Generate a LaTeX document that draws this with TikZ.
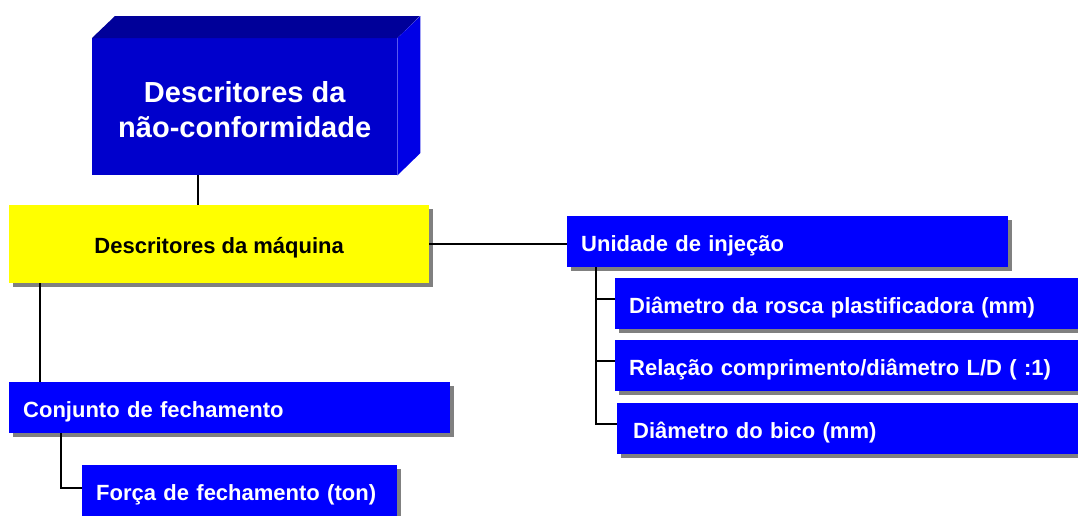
\documentclass[tikz,border=0pt]{standalone}
\usepackage{fontspec}
\setmainfont{Liberation Sans}
\usetikzlibrary{positioning, shadows, calc}
\definecolor{ncfFront}{HTML}{0000CC}
\definecolor{ncfTop}{HTML}{000099}
\definecolor{ncfSide}{HTML}{0000E6}
\definecolor{boxBlue}{HTML}{0000FF}
\definecolor{machYellow}{HTML}{FFFF00}
\definecolor{shadowGray}{HTML}{808080}

\begin{document}
\begin{tikzpicture}[x=1pt, y=-1pt,
  link/.style={black, line width=2pt},
  boxshadow/.style={drop shadow={shadow xshift=3.5pt, shadow yshift=-3.5pt, fill=shadowGray, opacity=1}},
  itembox/.style={fill=boxBlue, text=white, anchor=north west, align=left,
    inner xsep=14pt, inner ysep=0pt, minimum height=51pt, text height=19pt, text depth=0pt,
    font=\bfseries\fontsize{22}{26}\selectfont, boxshadow}]
  \clip (0,0) rectangle (1078,515);
  \fill[white] (0,0) rectangle (1078,515);
  % --- 3D block at the top: front face carries the title, top and side faces drawn on it ---
  \def\depx{23}\def\depy{22}
  \node[fill=ncfFront, text=white, anchor=north west, align=center, inner sep=0pt,
    minimum width=305pt, minimum height=137pt, text height=62pt,
    font=\bfseries\fontsize{29}{35}\selectfont] (ncf) at (92,38)
    {Descritores da\\n\~ao-conformidade};
  \fill[ncfTop] (ncf.north west) -- ++(\depx,-\depy) -- ++(305,0) -- (ncf.north east) -- cycle;
  \fill[ncfSide] (ncf.north east) -- ++(\depx,-\depy) -- ++(0,137) -- (ncf.south east) -- cycle;
  % --- machine descriptors (yellow) ---
  \node[fill=machYellow, anchor=north west, inner sep=0pt, minimum width=420pt, minimum height=78pt,
    text height=19pt, text depth=0pt, font=\bfseries\fontsize{22}{26}\selectfont, boxshadow]
    (maq) at (9,205) {Descritores da máquina};
  % --- injection unit and its leaves ---
  \node[itembox, text width=413pt] (uni) at (567,216) {Unidade de injeção};
  \node[itembox, text width=447pt] (rosca) at (615,278) {Diâmetro da rosca plastificadora (mm)};
  \node[itembox, text width=447pt] (relacao) at (615,340) {Relação comprimento/diâmetro L/D ( :1)};
  \node[itembox, text width=445pt, inner xsep=16pt] (bico) at (617,403) {Diâmetro do bico (mm)};
  % --- closing unit ---
  \node[itembox, text width=413pt] (conj) at (9,382) {Conjunto de fechamento};
  \node[itembox, text width=287pt] (forca) at (82,465) {Força de fechamento (ton)};
  % --- connectors ---
  \coordinate (topJoint) at ([xshift=106pt]ncf.south west);
  \draw[link] (topJoint) -- (topJoint |- maq.north);
  \draw[link] (maq.east) -- (maq.east -| uni.west);
  \coordinate (maqJoint) at ([xshift=31pt]maq.south west);
  \draw[link] (maqJoint) -- (maqJoint |- conj.north);
  \coordinate (uniJoint) at ([xshift=29pt]uni.south west);
  \foreach \leaf in {rosca, relacao, bico}
    \draw[link] (uniJoint) |- ([yshift=5pt]\leaf.west);
  \coordinate (conjJoint) at ([xshift=52pt]conj.south west);
  \draw[link] (conjJoint) |- ([yshift=3pt]forca.west);
\end{tikzpicture}
\end{document}
